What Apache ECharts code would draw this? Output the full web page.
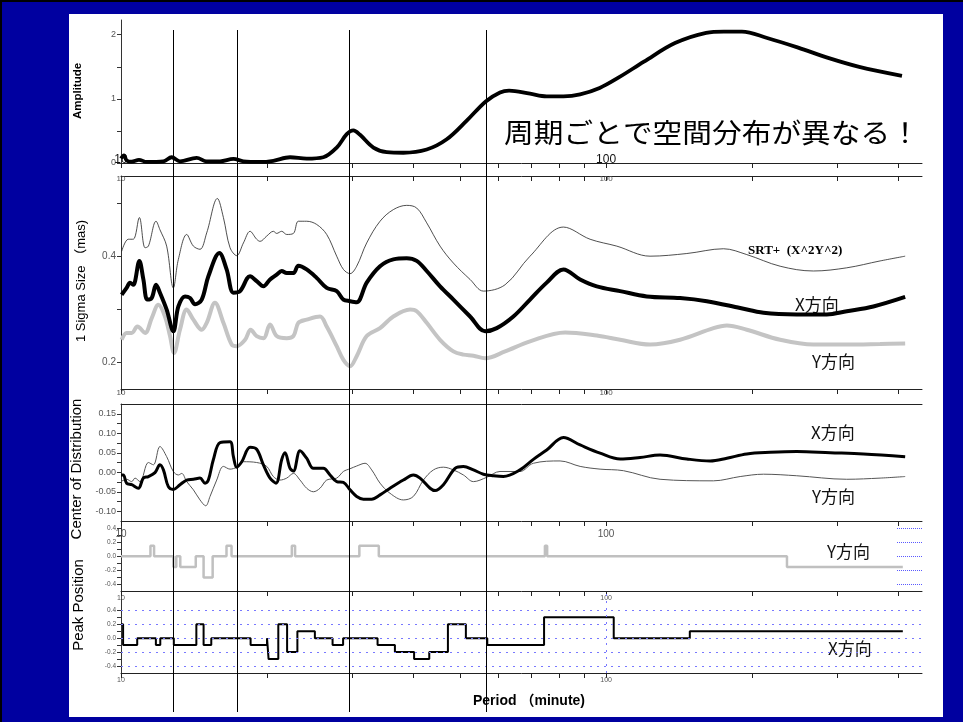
<!DOCTYPE html>
<html>
<head>
<meta charset="utf-8">
<script src="https://cdn.jsdelivr.net/npm/echarts@6/dist/echarts.min.js"></script>
<style>
  html, body { margin: 0; padding: 0; width: 963px; height: 722px; overflow: hidden; background: #0000a0; }
  #edgeTop { position: absolute; left: 0; top: 0; width: 963px; height: 2px; background: #000; }
  #edgeLeft { position: absolute; left: 0; top: 0; width: 2px; height: 722px; background: #000; }
  #sheet { position: absolute; left: 69px; top: 14px; width: 874px; height: 703px; background: #fff; }
  #chart { position: absolute; left: 0; top: 0; width: 963px; height: 722px; }
</style>
</head>
<body>
<div id="edgeTop"></div>
<div id="edgeLeft"></div>
<div id="sheet"></div>
<div id="chart"></div>
<script>
// ---- period axis (minutes, log scale) ----
const PERIOD_MIN = 10;
const PERIOD_MAX = 448;
const periodTicks = [10, 20, 30, 40, 50, 60, 70, 80, 90, 100, 200, 300, 400];
const periodLabels = [10, 100];
const markerPeriods = [12.8, 17.4, 29.5, 56.5];

// ---- value axes ----
const ampTicks = [0, 0.5, 1, 1.5, 2];
const ampLabels = [0, 1, 2];
const sigmaTicks = [0.2, 0.3, 0.4, 0.5];
const sigmaLabels = [0.2, 0.4];
const centerTicks = [-0.1, -0.075, -0.05, -0.025, 0, 0.025, 0.05, 0.075, 0.1, 0.125, 0.15];
const centerLabels = [-0.1, -0.05, 0, 0.05, 0.1, 0.15];
const peakTicks = [-0.4, -0.3, -0.2, -0.1, 0, 0.1, 0.2, 0.3, 0.4];
const peakLabels = [-0.4, -0.2, 0, 0.2, 0.4];
const peakGuides = [0.4, 0.2, 0, -0.2, -0.4];

// ---- amplitude spectrum [period, amplitude] ----
const amplitude = [[10.0,0.07],[10.14,0.12],[10.27,0.04],[10.52,0.02],[10.89,0.05],[11.3,0.016],[12.23,0.026],[12.72,0.09],[13.23,0.026],[14.32,0.08],[15.02,0.026],[16.0,0.026],[17.05,0.063],[17.88,0.026],[19.35,0.016],[20.61,0.035],[22.31,0.09],[24.14,0.068],[26.13,0.09],[27.84,0.24],[29.2,0.45],[30.13,0.51],[31.1,0.44],[33.14,0.24],[35.3,0.17],[38.2,0.16],[42.68,0.21],[46.94,0.37],[51.61,0.66],[56.49,0.96],[60.44,1.10],[63.1,1.13],[69.7,1.08],[75.4,1.04],[81.7,1.04],[88.4,1.07],[97,1.17],[106,1.33],[119.7,1.58],[138.7,1.87],[160.8,2.03],[175,2.05],[190.6,2.05],[214.8,1.95],[248.9,1.80],[286.9,1.64],[332.5,1.50],[407.4,1.36]];

// ---- 1 sigma size (mas) ----
const sigmaRss = [[10.03,0.409],[10.35,0.432],[10.6,0.432],[10.91,0.473],[11.21,0.416],[11.39,0.419],[11.81,0.466],[12.03,0.45],[12.42,0.419],[12.82,0.34],[13.13,0.394],[13.66,0.441],[14.1,0.419],[14.55,0.413],[15.02,0.444],[15.8,0.509],[16.26,0.473],[16.78,0.416],[17.32,0.401],[17.88,0.425],[18.45,0.447],[19.04,0.432],[19.35,0.428],[19.97,0.438],[20.61,0.447],[20.94,0.443],[21.44,0.447],[21.96,0.441],[22.67,0.443],[23.21,0.466],[24.14,0.466],[25.31,0.46],[26.55,0.441],[27.84,0.40],[28.74,0.375],[29.66,0.367],[30.61,0.381],[32.1,0.425],[34.2,0.466],[36.43,0.488],[38.81,0.496],[40.7,0.491],[42.68,0.463],[45.47,0.419],[48.44,0.387],[52.44,0.356],[55.86,0.334],[61.92,0.346],[69.7,0.40],[81.66,0.455],[92.68,0.432],[105.2,0.419],[123.2,0.40],[146.7,0.405],[174.6,0.414],[195,0.403],[228.5,0.381],[267.6,0.372],[313.4,0.378],[367.2,0.391],[413.6,0.40]];
const sigmaX = [[10.03,0.327],[10.27,0.34],[10.44,0.35],[10.6,0.346],[10.91,0.391],[11.12,0.356],[11.33,0.318],[11.57,0.321],[11.81,0.346],[12.03,0.331],[12.42,0.299],[12.82,0.258],[13.13,0.305],[13.55,0.324],[13.88,0.321],[14.21,0.309],[14.67,0.318],[15.14,0.362],[15.95,0.406],[16.51,0.375],[17.05,0.331],[17.6,0.334],[18.45,0.362],[19.04,0.353],[19.66,0.343],[20.29,0.356],[20.94,0.365],[21.44,0.372],[21.96,0.368],[22.67,0.368],[23.21,0.382],[24.14,0.375],[25.31,0.359],[26.55,0.34],[27.84,0.334],[28.74,0.318],[29.66,0.315],[30.61,0.313],[32.1,0.35],[34.2,0.381],[36.43,0.394],[38.81,0.396],[40.7,0.391],[42.68,0.372],[45.47,0.343],[48.44,0.318],[52.44,0.286],[56.31,0.258],[59.51,0.264],[64.4,0.286],[69.7,0.318],[75.44,0.35],[81.66,0.375],[88.41,0.356],[95.67,0.343],[106.9,0.334],[121.3,0.324],[142.1,0.321],[161.3,0.315],[189,0.302],[211.1,0.293],[247.2,0.29],[285.1,0.29],[313.4,0.296],[355.7,0.305],[413.6,0.323]];
const sigmaY = [[10.03,0.242],[10.27,0.255],[10.52,0.255],[10.81,0.267],[11.21,0.255],[11.57,0.283],[11.94,0.308],[12.32,0.286],[12.62,0.249],[12.86,0.217],[13.23,0.261],[13.66,0.299],[14.1,0.28],[14.67,0.261],[15.02,0.274],[15.62,0.312],[16.26,0.274],[16.91,0.233],[17.32,0.23],[18.02,0.242],[18.51,0.261],[19.04,0.249],[19.66,0.245],[20.29,0.271],[20.94,0.249],[21.96,0.245],[22.67,0.249],[23.21,0.274],[24.14,0.28],[25.72,0.286],[26.55,0.267],[27.84,0.23],[28.74,0.204],[29.66,0.192],[30.61,0.211],[32.1,0.249],[34.2,0.264],[36.43,0.286],[39.44,0.299],[40.7,0.296],[42.68,0.274],[45.47,0.242],[48.44,0.22],[50.8,0.214],[53.28,0.212],[56.31,0.207],[61.92,0.22],[69.7,0.239],[82.32,0.256],[95.67,0.25],[106.9,0.242],[123.2,0.233],[142.1,0.242],[166.5,0.264],[177.4,0.269],[195,0.261],[228.5,0.242],[267.6,0.233],[313.4,0.233],[367.2,0.234],[413.6,0.235]];

// ---- center of distribution ----
const centerX = [[10.0,-0.007],[10.11,-0.007],[10.27,-0.028],[10.52,-0.032],[10.86,-0.041],[11.12,-0.015],[11.39,-0.011],[11.75,-0.001],[12.03,0.019],[12.23,0.006],[12.52,-0.037],[12.82,-0.044],[13.23,-0.032],[13.66,-0.02],[14.1,-0.018],[14.55,-0.015],[14.9,-0.028],[15.14,-0.02],[15.5,0.032],[16.0,0.076],[16.78,0.078],[17.05,0.04],[17.32,0.013],[17.74,0.027],[18.45,0.064],[19.04,0.059],[19.66,0.019],[20.29,-0.015],[20.87,-0.028],[21.44,0.032],[21.78,0.05],[22.31,0.01],[22.67,0.003],[23.39,0.055],[24.14,0.036],[24.92,0.01],[26.13,0.01],[26.97,-0.007],[27.84,-0.024],[28.74,-0.026],[29.66,-0.045],[30.61,-0.062],[31.6,-0.069],[32.87,-0.069],[34.2,-0.058],[35.86,-0.041],[38.2,-0.02],[40.06,-0.007],[41.35,-0.015],[43.37,-0.041],[44.41,-0.047],[46.2,-0.032],[48.83,0.01],[50.8,0.015],[53.28,0.006],[55.86,-0.005],[58.57,-0.009],[61.41,-0.011],[66.46,0.006],[70.81,0.033],[75.44,0.057],[81.66,0.089],[88.41,0.07],[97.19,0.049],[106.9,0.034],[117.5,0.038],[129.2,0.044],[146.7,0.034],[163.9,0.029],[177.4,0.036],[195,0.047],[217.9,0.051],[247.2,0.053],[289.7,0.05],[339.4,0.047],[413.6,0.04]];
const centerY = [[10.0,-0.024],[10.27,-0.018],[10.52,-0.024],[10.69,-0.015],[10.94,-0.024],[11.39,0.025],[11.66,0.019],[12.03,0.066],[12.42,0.04],[12.82,0.002],[13.13,-0.007],[13.34,-0.003],[13.66,-0.024],[14.1,-0.045],[14.55,-0.071],[14.95,-0.086],[15.26,-0.062],[15.75,-0.02],[16.26,0.015],[16.78,0.008],[17.32,0.013],[17.88,0.027],[19.04,0.025],[19.97,0.015],[20.61,-0.011],[21.27,-0.02],[21.96,-0.015],[22.67,-0.003],[23.39,-0.02],[24.14,-0.041],[24.92,-0.05],[25.72,-0.041],[26.55,-0.02],[27.84,-0.015],[28.74,0.002],[29.66,0.009],[30.61,0.016],[31.85,0.023],[32.87,0.006],[34.2,-0.028],[35.86,-0.054],[38.2,-0.071],[40.06,-0.062],[42.02,-0.02],[44.06,0.006],[46.2,0.013],[48.44,0.006],[50.8,-0.007],[53.28,-0.024],[56.75,-0.013],[60.44,0.002],[66.46,0.002],[70.81,0.023],[80.38,0.029],[88.41,0.015],[97.19,0.008],[108.6,0.004],[129.2,-0.018],[166.5,-0.022],[189,-0.011],[211.1,-0.005],[247.2,-0.009],[313.4,-0.018],[367.2,-0.015],[413.6,-0.011]];

// ---- peak position (step values) ----
const peakY = [[10,0],[11.5,0.15],[11.7,0],[12.82,-0.15],[13.0,0],[13.25,-0.15],[14.26,0],[14.8,-0.3],[15.45,0],[16.5,0.15],[16.9,0],[22.5,0.15],[22.85,0],[31.0,0.15],[34.0,0],[74.8,0.15],[75.6,0],[236,-0.15],[409,-0.15]];
const peakX = [[10,0.2],[10.1,-0.1],[10.8,0],[11.8,-0.1],[12.05,0],[12.85,-0.1],[14.3,0.2],[14.8,-0.1],[15.35,0],[18.5,-0.1],[20.0,0],[20.15,-0.3],[21.1,0.2],[22.0,-0.2],[23.1,0.1],[25.1,0],[27.3,-0.1],[28.7,0],[33.8,-0.1],[36.7,-0.2],[40.2,-0.3],[43.2,-0.2],[47.2,0.2],[51.4,0],[56.9,-0.1],[74.5,0.3],[103.7,0],[148.8,0.1],[409,0.1]];

const SANS = '"Liberation Sans", Arial, "Noto Sans CJK JP", sans-serif';
const JP = '"Noto Sans CJK JP", sans-serif';
const SERIF = '"Liberation Serif", "Times New Roman", serif';

function periodAxis(gridIndex, position, tick, label, showLine) {
  return {
    type: 'log', logBase: 10, min: PERIOD_MIN, max: PERIOD_MAX,
    gridIndex: gridIndex, position: position,
    axisLine: { show: showLine !== false, onZero: false, lineStyle: { color: '#222', width: 1 } },
    axisTick: tick ? Object.assign({ show: true, customValues: periodTicks, length: 5, lineStyle: { color: '#222' } }, tick) : { show: false },
    axisLabel: label ? Object.assign({ show: true, customValues: periodLabels, fontFamily: SANS, color: '#555' }, label) : { show: false },
    splitLine: { show: false }
  };
}

function valueAxis(gridIndex, min, max, ticks, labels, digits, fontSize) {
  return {
    type: 'value', gridIndex: gridIndex, min: min, max: max,
    axisLine: { show: true, onZero: false, lineStyle: { color: '#333', width: 1 } },
    axisTick: { show: true, customValues: ticks, length: 4, lineStyle: { color: '#333' } },
    axisLabel: {
      show: true, customValues: labels, fontFamily: SANS, fontSize: fontSize, color: '#555', margin: 5,
      formatter: function (v) { return Number(v).toFixed(digits); }
    },
    splitLine: { show: false }
  };
}

function hiddenAxis(gridIndex, type, min, max) {
  return { type: type, gridIndex: gridIndex, min: min, max: max, show: false };
}

function lineSeries(name, data, xi, yi, color, width, extra) {
  return Object.assign({
    name: name, type: 'line', data: data, xAxisIndex: xi, yAxisIndex: yi,
    showSymbol: false, symbol: 'none', smooth: 0.35,
    lineStyle: { color: color, width: width }, animation: false
  }, extra || {});
}

function sideText(text, x, y, size, extra) {
  return Object.assign({
    type: 'text', x: x, y: y,
    style: { text: text, font: size + 'px ' + JP, fill: '#111', align: 'left', verticalAlign: 'middle' }
  }, extra || {});
}

function axisName(text, x, y, font) {
  return {
    type: 'text', x: x, y: y, rotation: Math.PI / 2,
    style: { text: text, font: font, fill: '#000', align: 'center', verticalAlign: 'middle' }
  };
}

const chart = echarts.init(document.getElementById('chart'), null, { renderer: 'canvas' });

chart.setOption({
  backgroundColor: 'transparent',
  animation: false,
  grid: [
    { left: 121, right: 41, top: 20, height: 143 },   // amplitude
    { left: 121, right: 41, top: 176, height: 213 },  // 1 sigma size
    { left: 121, right: 41, top: 404, height: 117 },  // center of distribution
    { left: 121, right: 41, top: 521, height: 70 },   // peak position Y
    { left: 121, right: 41, top: 591, height: 82 },   // peak position X
    { left: 121, right: 41, top: 30, height: 682 },   // period markers
    { left: 897, right: 41, top: 521, height: 70 }    // right-edge guides
  ],
  xAxis: [
    periodAxis(0, 'bottom', {}, { inside: true, margin: -3, fontSize: 12, color: '#111' }),
    periodAxis(1, 'top', { inside: true }, { margin: -7, fontSize: 8 }),
    periodAxis(1, 'bottom', {}, { margin: 0, fontSize: 8 }),
    periodAxis(2, 'top', null, null),
    periodAxis(2, 'bottom', {}, { margin: 8, fontSize: 10 }),
    periodAxis(3, 'bottom', {}, { margin: 4, fontSize: 7 }),
    periodAxis(4, 'bottom', {}, { margin: 4, fontSize: 7 }),
    hiddenAxis(5, 'log', PERIOD_MIN, PERIOD_MAX),
    hiddenAxis(6, 'value', 0, 1)
  ],
  yAxis: [
    valueAxis(0, 0, 2.23, ampTicks, ampLabels, 0, 9),
    valueAxis(1, 0.149, 0.5515, sigmaTicks, sigmaLabels, 1, 10),
    valueAxis(2, -0.125, 0.175, centerTicks, centerLabels, 2, 9),
    valueAxis(3, -0.49, 0.5, peakTicks, peakLabels, 1, 6.5),
    valueAxis(4, -0.5, 0.676, peakTicks, peakLabels, 1, 6.5),
    hiddenAxis(5, 'value', 0, 1),
    hiddenAxis(6, 'value', -0.49, 0.5)
  ],
  series: [
    lineSeries('Amplitude', amplitude, 0, 0, '#000', 3.8),
    lineSeries('SRT', sigmaRss, 2, 1, '#222', 0.8),
    lineSeries('Y sigma', sigmaY, 2, 1, '#c4c4c4', 4),
    lineSeries('X sigma', sigmaX, 2, 1, '#000', 4),
    lineSeries('Y center', centerY, 4, 2, '#555', 1),
    lineSeries('X center', centerX, 4, 2, '#000', 3),
    lineSeries('Y peak', peakY, 5, 3, '#c0c0c0', 2.5, { smooth: false, step: 'end' }),
    lineSeries('X peak', peakX, 6, 4, '#000', 2, {
      smooth: false, step: 'end',
      markLine: {
        silent: true, symbol: ['none', 'none'], label: { show: false }, animation: false,
        lineStyle: { color: '#7878ff', type: [2, 5], width: 1 },
        data: peakGuides.map(function (v) { return { yAxis: v }; }).concat([{ xAxis: 100 }])
      }
    }),
    {
      name: 'markers', type: 'line', data: [], xAxisIndex: 7, yAxisIndex: 5, animation: false,
      markLine: {
        silent: true, symbol: ['none', 'none'], label: { show: false }, animation: false,
        lineStyle: { color: '#000', type: 'solid', width: 1 },
        data: markerPeriods.map(function (p) { return { xAxis: p }; })
      }
    },
    {
      name: 'guides', type: 'line', data: [], xAxisIndex: 8, yAxisIndex: 6, animation: false,
      markLine: {
        silent: true, symbol: ['none', 'none'], label: { show: false }, animation: false,
        lineStyle: { color: '#5a5aff', type: [1, 1], width: 1 },
        data: peakGuides.map(function (v) { return { yAxis: v }; })
      }
    }
  ],
  graphic: [
    axisName('Amplitude', 78, 91, 'bold 11.5px ' + SANS),
    axisName('1 Sigma Size （mas)', 81, 281, '13px ' + SANS),
    axisName('Center of Distribution', 77, 469, '15px ' + SANS),
    axisName('Peak Position', 79, 605, '15px ' + SANS),
    {
      type: 'text', x: 712, y: 133, scaleX: 1.1,
      style: { text: '周期ごとで空間分布が異なる！', font: '27px ' + JP, fill: '#000', align: 'center', verticalAlign: 'middle' }
    },
    {
      type: 'text', x: 748, y: 251,
      style: { text: 'SRT+  (X^2Y^2)', font: 'bold 13px ' + SERIF, fill: '#000', align: 'left', verticalAlign: 'middle' }
    },
    sideText('X方向', 795, 305, 17),
    sideText('Y方向', 812, 362, 17),
    sideText('X方向', 811, 433, 17),
    sideText('Y方向', 812, 497, 17),
    sideText('Y方向', 827, 552, 17),
    sideText('X方向', 828, 649, 17),
    {
      type: 'text', x: 473, y: 701,
      style: { text: 'Period （minute)', font: 'bold 14px ' + SANS, fill: '#000', align: 'left', verticalAlign: 'middle' }
    }
  ]
});
</script>
</body>
</html>
